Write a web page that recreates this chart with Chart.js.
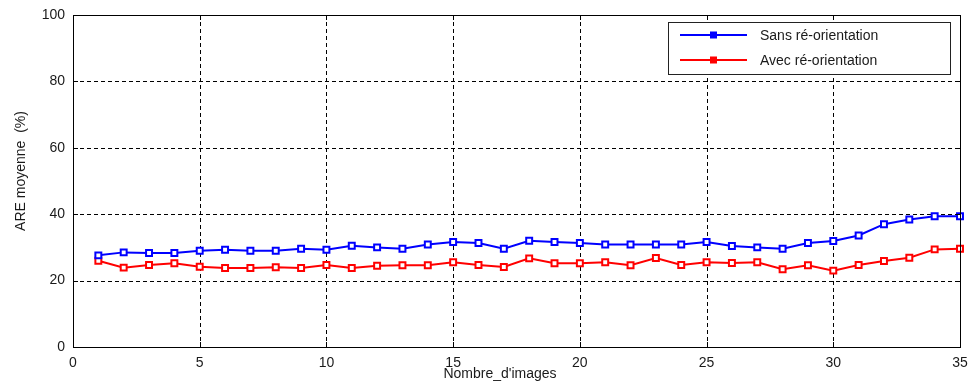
<!DOCTYPE html>
<html>
<head>
<meta charset="utf-8">
<script src="https://cdn.jsdelivr.net/npm/chart.js@4/dist/chart.umd.min.js"></script>
<style>
html,body{margin:0;padding:0;background:#fff;}
#wrap{width:970px;height:385px;position:relative;}
</style>
</head>
<body>
<div id="wrap"><canvas id="c" width="970" height="385"></canvas></div>
<script>
const nbImages = [1,2,3,4,5,6,7,8,9,10,11,12,13,14,15,16,17,18,19,20,21,22,23,24,25,26,27,28,29,30,31,32,33,34,35];
const sansReorientation = [27.6,28.5,28.3,28.3,29.0,29.3,29.0,29.0,29.6,29.3,30.5,30.0,29.6,30.9,31.6,31.3,29.6,32.0,31.6,31.3,30.9,30.9,30.9,30.9,31.6,30.4,30.0,29.6,31.3,31.9,33.6,37.0,38.4,39.4,39.4];
const avecReorientation = [26.0,23.9,24.7,25.2,24.2,23.8,23.8,24.0,23.8,24.7,23.8,24.5,24.6,24.6,25.5,24.7,24.1,26.7,25.2,25.2,25.5,24.6,26.8,24.7,25.5,25.3,25.5,23.4,24.6,23.0,24.7,25.9,26.9,29.4,29.6];
const seriesNames = ['Sans ré-orientation','Avec ré-orientation'];
const xTitle = "Nombre_d'images";
const yTitle = 'ARE moyenne  (%)';

const FONT = '"Liberation Sans", Arial, sans-serif';
const TXT = '#1a1a1a';

const gridPlugin = {
  id: 'dashedGrid',
  beforeDatasetsDraw(chart) {
    const {ctx, chartArea: a, scales} = chart;
    ctx.save();
    ctx.strokeStyle = '#000';
    ctx.lineWidth = 1;
    ctx.setLineDash([4, 3]);
    ctx.beginPath();
    scales.x.ticks.forEach(t => {
      const px = Math.round(scales.x.getPixelForValue(t.value)) + 0.5;
      ctx.moveTo(px, a.top); ctx.lineTo(px, a.bottom);
    });
    scales.y.ticks.forEach(t => {
      const py = Math.round(scales.y.getPixelForValue(t.value)) + 0.5;
      ctx.moveTo(a.left, py); ctx.lineTo(a.right, py);
    });
    ctx.stroke();
    ctx.restore();
  }
};

const boxPlugin = {
  id: 'matlabBox',
  afterDraw(chart) {
    const {ctx, chartArea: a, scales} = chart;
    ctx.save();
    ctx.strokeStyle = '#000';
    ctx.lineWidth = 1;
    const tl = 5;
    ctx.beginPath();
    scales.x.ticks.forEach(t => {
      const px = Math.round(scales.x.getPixelForValue(t.value)) + 0.5;
      ctx.moveTo(px, a.bottom); ctx.lineTo(px, a.bottom - tl);
      ctx.moveTo(px, a.top); ctx.lineTo(px, a.top + tl);
    });
    scales.y.ticks.forEach(t => {
      const py = Math.round(scales.y.getPixelForValue(t.value)) + 0.5;
      ctx.moveTo(a.left, py); ctx.lineTo(a.left + tl, py);
      ctx.moveTo(a.right, py); ctx.lineTo(a.right - tl, py);
    });
    ctx.stroke();
    ctx.strokeRect(Math.round(a.left) + 0.5, Math.round(a.top) + 0.5, Math.round(a.right - a.left), Math.round(a.bottom - a.top));

    // legend
    const lx = 668, ly = 22, lw = 282, lh = 52;
    ctx.fillStyle = '#fff';
    ctx.fillRect(lx, ly, lw, lh);
    ctx.strokeStyle = '#222';
    ctx.strokeRect(lx + 0.5, ly + 0.5, lw, lh);
    const cols = ['#0000ff', '#ff0000'];
    const ys = [35, 60];
    ctx.font = '14px ' + FONT;
    ctx.textBaseline = 'middle';
    ctx.textAlign = 'left';
    for (let i = 0; i < 2; i++) {
      ctx.strokeStyle = cols[i];
      ctx.lineWidth = 2;
      ctx.beginPath();
      ctx.moveTo(680, ys[i]); ctx.lineTo(747, ys[i]);
      ctx.stroke();
      ctx.fillStyle = cols[i];
      ctx.fillRect(710, ys[i] - 3.5, 7, 7);
      ctx.fillStyle = TXT;
      ctx.fillText(seriesNames[i], 760, ys[i] + 1);
    }

    // axis titles
    ctx.fillStyle = TXT;
    ctx.font = '14px ' + FONT;
    ctx.textAlign = 'center';
    ctx.textBaseline = 'middle';
    ctx.fillText(xTitle, 500, 374);
    ctx.save();
    ctx.translate(21, 171);
    ctx.rotate(-Math.PI / 2);
    ctx.fillText(yTitle, 0, 0);
    ctx.restore();
    ctx.restore();
  }
};

new Chart(document.getElementById('c'), {
  type: 'line',
  data: {
    datasets: [
      {
        label: seriesNames[0],
        data: nbImages.map((x, i) => ({x: x, y: sansReorientation[i]})),
        borderColor: '#0000ff',
        backgroundColor: '#ffffff',
        borderWidth: 2,
        pointStyle: 'rect',
        pointRadius: 4.2,
        pointBorderWidth: 2,
        pointBorderColor: '#0000ff',
        pointBackgroundColor: '#ffffff',
        tension: 0,
        clip: false
      },
      {
        label: seriesNames[1],
        data: nbImages.map((x, i) => ({x: x, y: avecReorientation[i]})),
        borderColor: '#ff0000',
        backgroundColor: '#ffffff',
        borderWidth: 2,
        pointStyle: 'rect',
        pointRadius: 4.2,
        pointBorderWidth: 2,
        pointBorderColor: '#ff0000',
        pointBackgroundColor: '#ffffff',
        tension: 0,
        clip: false
      }
    ]
  },
  options: {
    responsive: false,
    animation: false,
    devicePixelRatio: 1,
    layout: {padding: {top: 15, right: 10, left: 0, bottom: 0}},
    plugins: {legend: {display: false}, tooltip: {enabled: false}},
    scales: {
      x: {
        type: 'linear',
        min: 0, max: 35,
        afterFit(s) { s.height = 38; s.paddingLeft = 0; s.paddingRight = 0; },
        ticks: {stepSize: 5, color: TXT, font: {family: FONT, size: 14}, padding: 8, maxRotation: 0},
        grid: {display: false, drawTicks: false},
        border: {display: false}
      },
      y: {
        min: 0, max: 100,
        afterFit(s) { s.width = 73; s.paddingTop = 0; s.paddingBottom = 0; },
        ticks: {stepSize: 20, color: TXT, font: {family: FONT, size: 14}, padding: 8},
        grid: {display: false, drawTicks: false},
        border: {display: false}
      }
    }
  },
  plugins: [gridPlugin, boxPlugin]
});
</script>
</body>
</html>
